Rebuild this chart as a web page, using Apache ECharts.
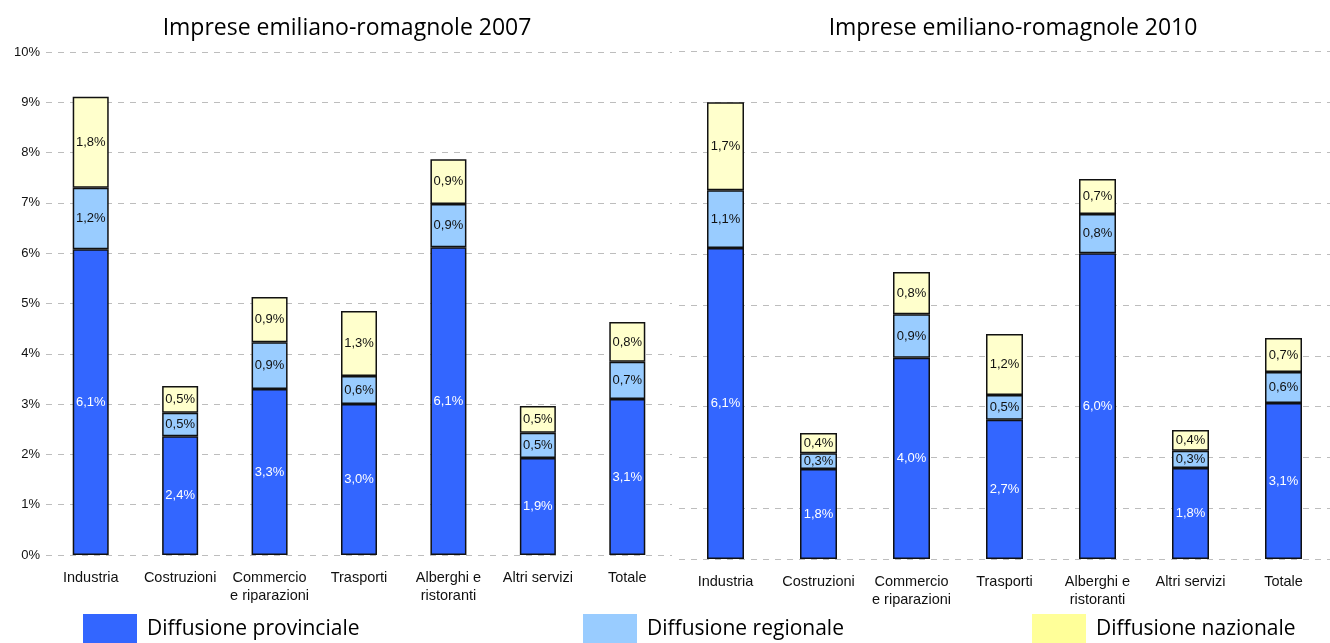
<!DOCTYPE html>
<html>
<head>
<meta charset="utf-8">
<script src="https://cdn.jsdelivr.net/npm/echarts@6/dist/echarts.min.js"></script>
<style>html,body{margin:0;padding:0;background:#fff}#c{width:1330px;height:643px}</style>
</head>
<body>
<div id="c"></div>
<script>
const categories = ['Industria', 'Costruzioni', 'Commercio\ne riparazioni', 'Trasporti', 'Alberghi e\nristoranti', 'Altri servizi', 'Totale'];
const yTicks = ['0%','1%','2%','3%','4%','5%','6%','7%','8%','9%','10%'];
const titles = ['Imprese emiliano-romagnole 2007', 'Imprese emiliano-romagnole 2010'];
const seriesNames = ['Diffusione provinciale', 'Diffusione regionale', 'Diffusione nazionale'];

const prov2007 = [6.08, 2.36, 3.30, 3.00, 6.12, 1.93, 3.10];
const reg2007  = [1.22, 0.47, 0.93, 0.56, 0.86, 0.50, 0.74];
const naz2007  = [1.81, 0.53, 0.90, 1.29, 0.89, 0.53, 0.79];

const prov2010 = [6.12, 1.77, 3.96, 2.74, 6.02, 1.79, 3.07];
const reg2010  = [1.14, 0.31, 0.86, 0.49, 0.77, 0.34, 0.61];
const naz2010  = [1.73, 0.40, 0.83, 1.20, 0.69, 0.41, 0.67];

const barColors = ['#3366FF', '#99CCFF', '#FFFFCC'];
const legendColors = ['#3366FF', '#99CCFF', '#FFFF99'];
const labelColors = ['#ffffff', '#111111', '#111111'];

const fmt = p => p.value.toFixed(1).replace('.', ',') + '%';

function mkSeries(idx, data, axis, barW) {
  return {
    name: seriesNames[idx], type: 'bar', stack: 's' + axis,
    xAxisIndex: axis, yAxisIndex: axis, data: data, barWidth: barW,
    itemStyle: { color: barColors[idx], borderColor: '#111', borderWidth: 1.5 },
    label: { show: true, position: 'inside', formatter: fmt, color: labelColors[idx],
             fontFamily: 'Liberation Sans, Arial', fontSize: 13 },
    emphasis: { disabled: true }
  };
}

const gridLine = { show: true, lineStyle: { color: '#bdbdbd', type: [6, 6], width: 1 } };
const xLabel = { color: '#111', fontFamily: 'Liberation Sans, Arial', fontSize: 14.5, lineHeight: 18, margin: 14, interval: 0 };

const option = {
  animation: false,
  backgroundColor: '#ffffff',
  title: [
    { text: titles[0], left: 342, top: 12, textAlign: 'center',
      textStyle: { fontFamily: 'Open Sans', fontSize: 23, fontWeight: 'normal', color: '#000' } },
    { text: titles[1], left: 1008, top: 12, textAlign: 'center',
      textStyle: { fontFamily: 'Open Sans', fontSize: 23, fontWeight: 'normal', color: '#000' } }
  ],
  legend: seriesNames.map((n, i) => ({
    left: [83, 583, 1032][i], top: 614, padding: 0, icon: 'rect', itemWidth: 54, itemHeight: 30,
    itemGap: 0, selectedMode: false,
    data: [{ name: n, itemStyle: { color: legendColors[i], borderWidth: 0 } }],
    textStyle: { fontFamily: 'Open Sans', fontSize: 21, color: '#000', padding: [4, 0, 0, 5] }
  })),
  grid: [
    { left: 46, top: 52, width: 626, height: 503 },
    { left: 679, top: 51, width: 667, height: 508 }
  ],
  xAxis: [
    { type: 'category', gridIndex: 0, data: categories, axisLine: { show: false }, axisTick: { show: false }, axisLabel: xLabel },
    { type: 'category', gridIndex: 1, data: categories, axisLine: { show: false }, axisTick: { show: false }, axisLabel: Object.assign({}, xLabel, { margin: 14 }) }
  ],
  yAxis: [
    { type: 'value', gridIndex: 0, min: 0, max: 10, interval: 1,
      axisLabel: { formatter: (v) => yTicks[Math.round(v)], color: '#111', fontFamily: 'Liberation Sans, Arial', fontSize: 13, margin: 6 },
      axisLine: { show: false }, axisTick: { show: false }, splitLine: gridLine },
    { type: 'value', gridIndex: 1, min: 0, max: 10, interval: 1,
      axisLabel: { show: false }, axisLine: { show: false }, axisTick: { show: false }, splitLine: gridLine }
  ],
  series: [
    mkSeries(0, prov2007, 0, 36), mkSeries(1, reg2007, 0, 36), mkSeries(2, naz2007, 0, 36),
    mkSeries(0, prov2010, 1, 37), mkSeries(1, reg2010, 1, 37), mkSeries(2, naz2010, 1, 37)
  ]
};

const chart = echarts.init(document.getElementById('c'), null, { renderer: 'canvas' });
chart.setOption(option);
</script>
</body>
</html>
